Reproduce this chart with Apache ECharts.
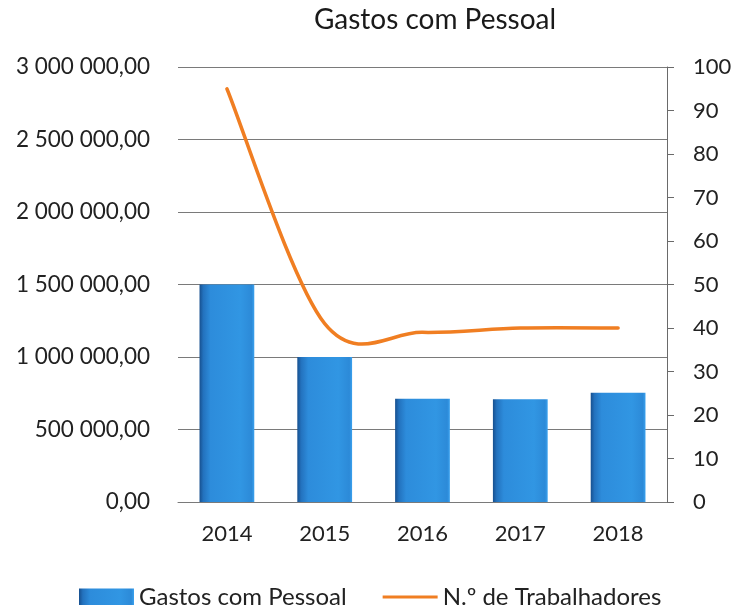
<!DOCTYPE html>
<html>
<head>
<meta charset="utf-8">
<script src="https://cdn.jsdelivr.net/npm/echarts@6/dist/echarts.min.js"></script>
<style>
  html, body { margin: 0; padding: 0; background: #fff; }
  #main { width: 735px; height: 605px; }
</style>
</head>
<body>
<div id="main"></div>
<script>
  // dados
  var anos = ['2014', '2015', '2016', '2017', '2018'];
  var gastos = [1500000, 1000000, 712000, 708000, 754000];
  var trabalhadores = [95, 41, 39, 40, 40];
  var ticksEsq = [0, 500000, 1000000, 1500000, 2000000, 2500000, 3000000];

  var fonte = 'Lato, "Open Sans", sans-serif';
  var laranja = '#F07E22';

  // 3 000 000,00
  function formata(v) {
    var s = String(Math.round(v));
    s = s.replace(/\B(?=(\d{3})+(?!\d))/g, ' ');
    return s + ',00';
  }

  var gradBarra = new echarts.graphic.LinearGradient(0, 0, 1, 0, [
    { offset: 0, color: '#17508f' },
    { offset: 0.07, color: '#2372be' },
    { offset: 0.2, color: '#2d8cdb' },
    { offset: 0.75, color: '#3196e3' },
    { offset: 0.95, color: '#2c8ad8' },
    { offset: 1, color: '#3aa1ee' }
  ]);

  // curva suavizada tipo excel (catmull-rom)
  function desenhaCurva(params, api) {
    if (params.dataIndex !== 0) return null;
    var pts = trabalhadores.map(function (v, i) { return api.coord([i, v]); });
    var d = 'M' + pts[0][0] + ',' + pts[0][1];
    for (var i = 0; i < pts.length - 1; i++) {
      var p0 = pts[i - 1] || pts[i];
      var p1 = pts[i];
      var p2 = pts[i + 1];
      var p3 = pts[i + 2] || pts[i + 1];
      var c1x = p1[0] + (p2[0] - p0[0]) / 6;
      var c1y = p1[1] + (p2[1] - p0[1]) / 6;
      var c2x = p2[0] - (p3[0] - p1[0]) / 6;
      var c2y = p2[1] - (p3[1] - p1[1]) / 6;
      d += ' C' + c1x + ',' + c1y + ' ' + c2x + ',' + c2y + ' ' + p2[0] + ',' + p2[1];
    }
    return {
      type: 'path',
      shape: { pathData: d },
      style: { fill: null, stroke: laranja, lineWidth: 3.5, lineCap: 'round', lineJoin: 'round' }
    };
  }

  var myChart = echarts.init(document.getElementById('main'));
  var option = {
    animation: false,
    title: {
      text: 'Gastos com Pessoal',
      left: 435,
      textAlign: 'center',
      top: 6,
      padding: 0,
      textStyle: { fontFamily: fonte, fontSize: 28, fontWeight: 'normal', color: '#1a1a1a' }
    },
    legend: {
      left: 79,
      top: 585,
      padding: 0,
      itemWidth: 55,
      itemHeight: 17,
      itemGap: 36,
      textStyle: { fontFamily: fonte, fontSize: 24, color: '#222', lineHeight: 17 },
      data: [
        { name: 'Gastos com Pessoal', icon: 'rect' },
        { name: 'N.º de Trabalhadores', icon: 'path://M0,0 M55,17 M0,7 L55,7 L55,10 L0,10 Z', itemStyle: { color: laranja } }
      ]
    },
    grid: { left: 178, right: 68, top: 67, bottom: 103 },
    xAxis: {
      type: 'category',
      data: anos,
      axisLine: { lineStyle: { color: '#7a7a7a', width: 1 } },
      axisTick: { show: false },
      axisLabel: { fontFamily: fonte, fontSize: 22, color: '#222', margin: 21 }
    },
    yAxis: [
      {
        type: 'value',
        min: ticksEsq[0],
        max: ticksEsq[ticksEsq.length - 1],
        interval: ticksEsq[1] - ticksEsq[0],
        axisLine: { show: false },
        axisTick: { show: false },
        splitLine: { lineStyle: { color: '#7a7a7a', width: 1 } },
        axisLabel: { fontFamily: fonte, fontSize: 22.5, color: '#222', margin: 28, formatter: formata }
      },
      {
        type: 'value',
        min: 0,
        max: 100,
        interval: 10,
        position: 'right',
        axisLine: { show: true, lineStyle: { color: '#6a6a6a', width: 1 } },
        axisTick: { show: true, length: 7, lineStyle: { color: '#6a6a6a' } },
        splitLine: { show: false },
        axisLabel: { fontFamily: fonte, fontSize: 22, color: '#222', margin: 26 }
      }
    ],
    series: [
      {
        name: 'Gastos com Pessoal',
        type: 'bar',
        data: gastos,
        barWidth: '56%',
        itemStyle: { color: gradBarra }
      },
      {
        name: 'N.º de Trabalhadores',
        type: 'custom',
        yAxisIndex: 1,
        data: trabalhadores.map(function (v, i) { return [i, v]; }),
        encode: { x: 0, y: 1 },
        itemStyle: { color: laranja },
        renderItem: desenhaCurva
      }
    ]
  };
  myChart.setOption(option);
</script>
</body>
</html>
